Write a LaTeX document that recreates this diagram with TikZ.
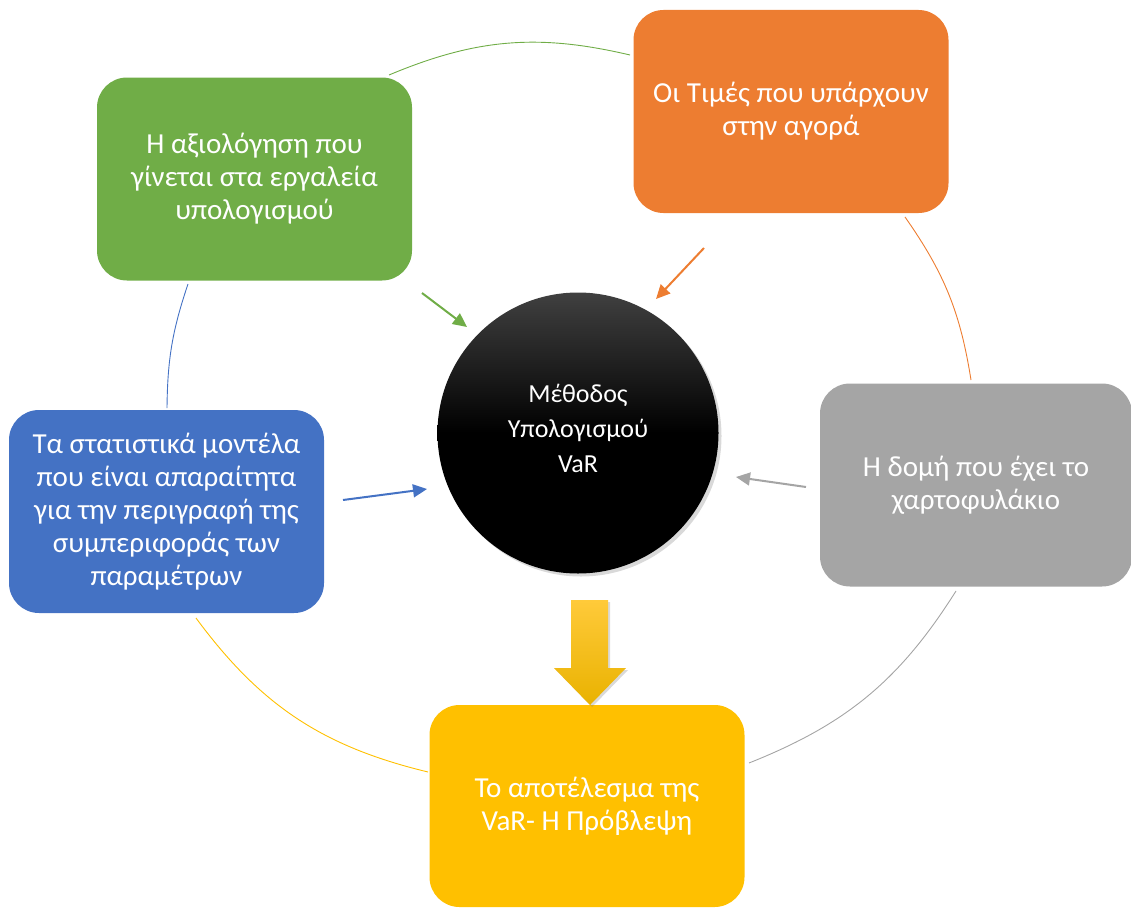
\documentclass[tikz,border=0pt]{standalone}
\usepackage{fontspec}
\setmainfont{Carlito}
\usetikzlibrary{arrows.meta,shadows}
\definecolor{cgreen}{HTML}{70AD47}
\definecolor{corange}{HTML}{ED7D31}
\definecolor{cgray}{HTML}{A5A5A5}
\definecolor{cblue}{HTML}{4472C4}
\definecolor{cyellow}{HTML}{FFC000}
\definecolor{cyellowtop}{HTML}{FFCA3A}
\definecolor{cyellowbot}{HTML}{E9B200}
\definecolor{cdark}{HTML}{404040}
\begin{document}
\begin{tikzpicture}[x=1pt,y=1pt,
  box/.style={rounded corners=30pt, minimum width=315pt, minimum height=203pt,
    text=white, align=center, font=\fontsize{29}{33}\selectfont, inner sep=0pt},
  ring/.style={line width=0.9pt},
  feed/.style={line width=2pt, -{Triangle[length=14pt,width=13pt]}}]
\useasboundingbox (0,0) rectangle (1131,-907);

% outer ring arcs
\coordinate (g1) at (389,-75);  \coordinate (g2) at (630,-55);
\coordinate (o1) at (905,-217); \coordinate (o2) at (971,-380);
\coordinate (r1) at (956,-591); \coordinate (r2) at (749,-763);
\coordinate (y1) at (428,-772); \coordinate (y2) at (196,-618);
\coordinate (b1) at (167,-408); \coordinate (b2) at (188,-284);
\draw[ring, cgreen]  (g1) to[bend left=18] (g2);
\draw[ring, corange] (o1) to[bend left=13] (o2);
\draw[ring, cgray]   (r1) to[bend left=18] (r2);
\draw[ring, cyellow] (y1) to[bend left=20] (y2);
\draw[ring, cblue]   (b1) to[bend left=9]  (b2);

% boxes
\node[box, fill=cgreen] (green) at (254.5,-179)
  {Η αξιολόγηση που\\γίνεται στα εργαλεία\\υπολογισμού};
\node[box, fill=corange] (orange) at (791,-111.5)
  {Οι Τιμές που υπάρχουν\\στην αγορά};
\node[box, fill=cgray, minimum width=312pt] (gray) at (976,-485)
  {Η δομή που έχει το\\χαρτοφυλάκιο};
\node[box, fill=cblue] (blue) at (166.5,-511.5)
  {Τα στατιστικά μοντέλα\\που είναι απαραίτητα\\για την περιγραφή της\\συμπεριφοράς των\\παραμέτρων};
\node[box, fill=cyellow, minimum height=202pt] (yellow) at (587,-806)
  {Το αποτέλεσμα της\\VaR- Η Πρόβλεψη};

% central circle
\node[circle, minimum size=281pt, inner sep=0pt, top color=cdark, bottom color=black,
  middle color=black, draw=none,
  drop shadow={opacity=0.3, shadow xshift=3pt, shadow yshift=-3pt},
  label={[text=white, align=center, font=\fontsize{26}{35}\selectfont, yshift=5pt]center:Μέθοδος\\Υπολογισμού\\VaR}]
  (core) at (578,-433) {};

% feeding arrows
\coordinate (ga) at (422,-293); \coordinate (gb) at (467,-327);
\coordinate (oa) at (704,-248); \coordinate (ob) at (656,-299);
\coordinate (ra) at (806,-487); \coordinate (rb) at (736,-477);
\coordinate (ba) at (343,-500); \coordinate (bb) at (427,-489);
\draw[feed, cgreen]  (ga) -- (gb);
\draw[feed, corange] (oa) -- (ob);
\draw[feed, cgray]   (ra) -- (rb);
\draw[feed, cblue]   (ba) -- (bb);

% block arrow down
\path[top color=cyellowtop, bottom color=cyellowbot,
  drop shadow={opacity=0.3, shadow xshift=2pt, shadow yshift=-2pt}]
  (571,-600) -- (608,-600) -- (608,-668) -- (626,-668) -- (590,-705)
  -- (554,-668) -- (571,-668) -- cycle;
\end{tikzpicture}
\end{document}
